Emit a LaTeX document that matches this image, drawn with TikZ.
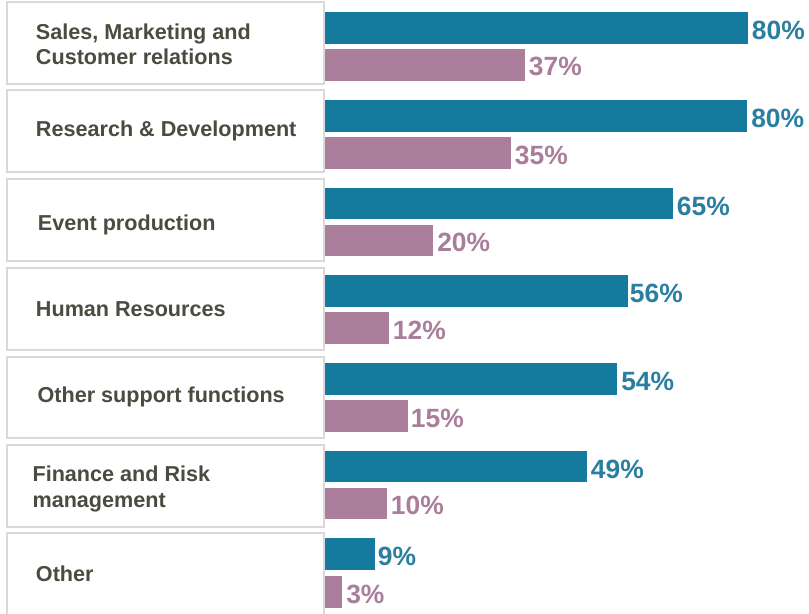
\documentclass[tikz,border=0pt]{standalone}
\usepackage{fontspec}
\setmainfont{Liberation Sans}
\definecolor{barblue}{HTML}{157B9E}
\definecolor{barpink}{HTML}{AB7F9B}
\definecolor{txtblue}{HTML}{2A7FA0}
\definecolor{txtpink}{HTML}{A97E9A}
\definecolor{labtxt}{HTML}{4B4B40}
\definecolor{boxline}{HTML}{D9D9D9}
\begin{document}
\begin{tikzpicture}[x=0.75pt,y=-0.75pt,
  catbox/.style={draw=boxline,line width=1.5pt,fill=white},
  cattext/.style={anchor=base west,inner sep=0pt,text=labtxt,font=\fontsize{16.2}{19}\selectfont\bfseries},
  bluebar/.style={fill=barblue},
  pinkbar/.style={fill=barpink},
  bluepct/.style={anchor=base west,inner sep=0pt,text=txtblue,font=\fontsize{19.8}{23}\selectfont\bfseries},
  pinkpct/.style={anchor=base west,inner sep=0pt,text=txtpink,font=\fontsize{19.8}{23}\selectfont\bfseries}]
\useasboundingbox (0,0) rectangle (809,613);
\fill[white] (0,0) rectangle (809,613);
% category boxes
\draw[catbox] (6.5,2.5) rectangle (323.5,84);
\draw[catbox] (6.5,90.5) rectangle (323.5,172.3);
\draw[catbox] (6.5,178.5) rectangle (323.5,260.7);
\draw[catbox] (6.5,268.3) rectangle (323.5,350);
\draw[catbox] (6.5,356.7) rectangle (323.5,438);
\draw[catbox] (6.5,444.7) rectangle (323.5,526.7);
\draw[catbox] (6.5,532.7) rectangle (323.5,618);
% category labels
\node[cattext] (c1a) at (35.7,39.3) {Sales, Marketing and};
\node[cattext] (c1b) at (35.7,64.3) {Customer relations};
\node[cattext] (c2) at (35.7,136.7) {Research \& Development};
\node[cattext] (c3) at (37.7,230) {Event production};
\node[cattext] (c4) at (35.7,316.7) {Human Resources};
\node[cattext] (c5) at (37.3,402.7) {Other support functions};
\node[cattext] (c6a) at (32.3,481.7) {Finance and Risk};
\node[cattext] (c6b) at (32.3,507.3) {management};
\node[cattext] (c7) at (35.7,581.7) {Other};
% bars
\fill[bluebar] (325,12) rectangle (747.7,43.7);
\fill[pinkbar] (325,49) rectangle (524.7,80.7);
\fill[bluebar] (325,100) rectangle (747,131.7);
\fill[pinkbar] (325,137) rectangle (510.7,168.7);
\fill[bluebar] (325,187.7) rectangle (672.7,219.4);
\fill[pinkbar] (325,224.7) rectangle (433,256.4);
\fill[bluebar] (325,275) rectangle (627.7,306.7);
\fill[pinkbar] (325,312) rectangle (388.7,343.7);
\fill[bluebar] (325,363.3) rectangle (617,395);
\fill[pinkbar] (325,400.3) rectangle (407.7,432);
\fill[bluebar] (325,450.7) rectangle (586.7,482.4);
\fill[pinkbar] (325,487.7) rectangle (386.7,519.4);
\fill[bluebar] (325,538) rectangle (374.7,569.7);
\fill[pinkbar] (325,576) rectangle (342,607.7);
% value labels
\node[bluepct] (b1) at (751.7,39.3) {80\%};
\node[pinkpct] (p1) at (528.7,76) {37\%};
\node[bluepct] (b2) at (751,127.3) {80\%};
\node[pinkpct] (p2) at (514.7,164) {35\%};
\node[bluepct] (b3) at (676.7,215) {65\%};
\node[pinkpct] (p3) at (437,251.7) {20\%};
\node[bluepct] (b4) at (629.7,302.3) {56\%};
\node[pinkpct] (p4) at (392.7,339) {12\%};
\node[bluepct] (b5) at (621,390.6) {54\%};
\node[pinkpct] (p5) at (410.7,427.3) {15\%};
\node[bluepct] (b6) at (590.7,478) {49\%};
\node[pinkpct] (p6) at (390.7,514.7) {10\%};
\node[bluepct] (b7) at (377.7,565.3) {9\%};
\node[pinkpct] (p7) at (346,603) {3\%};
\end{tikzpicture}
\end{document}
